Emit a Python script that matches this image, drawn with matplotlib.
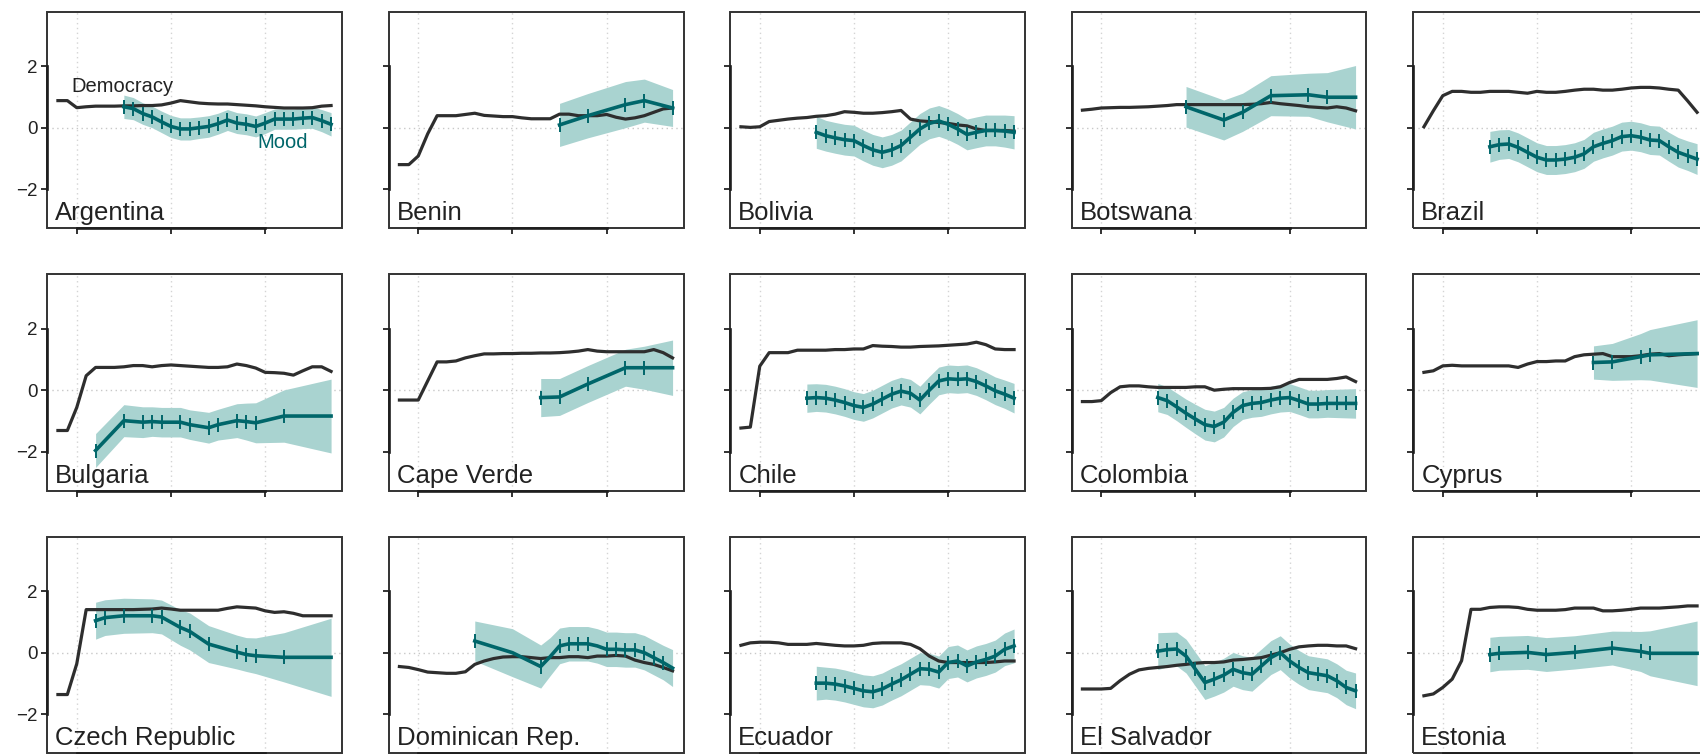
import matplotlib
matplotlib.use("Agg")
import matplotlib.pyplot as plt
from matplotlib.patches import Rectangle

plt.rcParams['font.family'] = ['Liberation Sans', 'DejaVu Sans']

YEARS = list(range(1988, 2018))

COUNTRIES = ["Argentina", "Benin", "Bolivia", "Botswana", "Brazil",
             "Bulgaria", "Cape Verde", "Chile", "Colombia", "Cyprus",
             "Czech Republic", "Dominican Rep.", "Ecuador", "El Salvador", "Estonia"]

# democracy, one value per year 1988-2017
DEMOCRACY = [
    [0.88, 0.88, 0.65, 0.68, 0.70, 0.70, 0.70, 0.71, 0.71, 0.72, 0.72, 0.74, 0.80, 0.88, 0.84,
     0.80, 0.78, 0.77, 0.77, 0.75, 0.73, 0.71, 0.68, 0.66, 0.64, 0.64, 0.64, 0.65, 0.70, 0.72],
    [-1.20, -1.20, -0.92, -0.20, 0.39, 0.39, 0.39, 0.43, 0.47, 0.40, 0.38, 0.36, 0.36, 0.32, 0.29,
     0.29, 0.29, 0.44, 0.44, 0.39, 0.39, 0.39, 0.43, 0.34, 0.28, 0.32, 0.39, 0.50, 0.61, 0.64],
    [0.03, 0.01, 0.03, 0.20, 0.24, 0.28, 0.31, 0.33, 0.37, 0.39, 0.44, 0.52, 0.50, 0.47, 0.47,
     0.49, 0.52, 0.56, 0.28, 0.22, 0.20, 0.17, 0.14, 0.09, 0.06, -0.04, -0.09, -0.09, -0.09, -0.11],
    [0.57, 0.60, 0.64, 0.65, 0.66, 0.66, 0.67, 0.68, 0.70, 0.72, 0.75, 0.75, 0.75, 0.75, 0.75,
     0.75, 0.75, 0.75, 0.76, 0.78, 0.82, 0.78, 0.75, 0.72, 0.68, 0.66, 0.64, 0.68, 0.64, 0.55],
    [0.03, 0.55, 1.04, 1.18, 1.18, 1.15, 1.15, 1.18, 1.18, 1.18, 1.15, 1.12, 1.18, 1.15, 1.15,
     1.18, 1.22, 1.25, 1.25, 1.22, 1.22, 1.25, 1.29, 1.31, 1.31, 1.29, 1.25, 1.22, 0.87, 0.50],
    [-1.31, -1.31, -0.56, 0.47, 0.74, 0.74, 0.74, 0.76, 0.80, 0.80, 0.76, 0.80, 0.82, 0.80, 0.78,
     0.76, 0.74, 0.74, 0.76, 0.85, 0.80, 0.72, 0.58, 0.57, 0.55, 0.49, 0.63, 0.76, 0.76, 0.61],
    [-0.32, -0.32, -0.32, 0.30, 0.92, 0.92, 0.95, 1.05, 1.12, 1.18, 1.18, 1.19, 1.19, 1.20, 1.20,
     1.21, 1.21, 1.22, 1.24, 1.27, 1.32, 1.27, 1.25, 1.25, 1.25, 1.25, 1.25, 1.32, 1.22, 1.05],
    [-1.23, -1.20, 0.78, 1.22, 1.22, 1.22, 1.30, 1.30, 1.30, 1.30, 1.32, 1.32, 1.34, 1.34, 1.45,
     1.43, 1.42, 1.40, 1.40, 1.42, 1.43, 1.44, 1.46, 1.48, 1.50, 1.56, 1.48, 1.34, 1.32, 1.32],
    [-0.37, -0.37, -0.34, -0.08, 0.11, 0.14, 0.14, 0.11, 0.09, 0.09, 0.09, 0.09, 0.11, 0.11, 0.00,
     0.03, 0.05, 0.05, 0.05, 0.05, 0.06, 0.11, 0.25, 0.35, 0.35, 0.35, 0.35, 0.38, 0.43, 0.28],
    [0.58, 0.63, 0.79, 0.81, 0.79, 0.79, 0.79, 0.79, 0.79, 0.79, 0.74, 0.85, 0.93, 0.93, 0.95,
     0.95, 1.09, 1.15, 1.17, 1.19, 1.09, 1.09, 1.09, 1.12, 1.17, 1.19, 1.12, 1.15, 1.17, 1.19],
    [-1.36, -1.36, -0.36, 1.40, 1.40, 1.40, 1.40, 1.40, 1.40, 1.41, 1.42, 1.45, 1.42, 1.38, 1.38,
     1.38, 1.38, 1.38, 1.44, 1.49, 1.47, 1.45, 1.36, 1.31, 1.33, 1.28, 1.20, 1.20, 1.20, 1.20],
    [-0.45, -0.48, -0.55, -0.63, -0.65, -0.67, -0.67, -0.62, -0.38, -0.27, -0.19, -0.14, -0.13, -0.13, -0.16,
     -0.19, -0.16, -0.16, -0.13, -0.13, -0.16, -0.11, -0.11, -0.09, -0.11, -0.24, -0.32, -0.38, -0.48, -0.59],
    [0.24, 0.32, 0.34, 0.34, 0.32, 0.27, 0.27, 0.27, 0.30, 0.27, 0.24, 0.22, 0.22, 0.24, 0.30,
     0.32, 0.32, 0.32, 0.27, 0.13, -0.11, -0.27, -0.32, -0.32, -0.32, -0.32, -0.32, -0.30, -0.27, -0.27],
    [-1.18, -1.18, -1.18, -1.16, -0.91, -0.70, -0.56, -0.51, -0.48, -0.45, -0.41, -0.38, -0.34, -0.32, -0.32,
     -0.30, -0.24, -0.22, -0.19, -0.16, -0.08, 0.00, 0.11, 0.19, 0.22, 0.24, 0.24, 0.22, 0.22, 0.13],
    [-1.40, -1.34, -1.13, -0.86, -0.26, 1.41, 1.41, 1.47, 1.49, 1.49, 1.47, 1.41, 1.38, 1.38, 1.38,
     1.40, 1.45, 1.45, 1.45, 1.36, 1.36, 1.38, 1.41, 1.45, 1.45, 1.45, 1.47, 1.49, 1.52, 1.52],
]

MOOD_YEARS = [
    list(range(1995, 2018)),
    [2005, 2008, 2012, 2014, 2017],
    list(range(1996, 2018)),
    [1999, 2003, 2005, 2008, 2012, 2014, 2017],
    list(range(1995, 2018)),
    [1992, 1995, 1997, 1998, 1999, 2001, 2002, 2004, 2005, 2007, 2008, 2009, 2012, 2017],
    [2003, 2005, 2008, 2012, 2014, 2017],
    list(range(1995, 2018)),
    list(range(1996, 2018)),
    [2006, 2008, 2011, 2012, 2017],
    [1992, 1993, 1995, 1998, 1999, 2001, 2002, 2004, 2007, 2008, 2009, 2012, 2017],
    [1996, 2000, 2003, 2004, 2005, 2006, 2007, 2008, 2009, 2010, 2011, 2012, 2013, 2014, 2015, 2016, 2017],
    list(range(1996, 2018)),
    list(range(1996, 2018)),
    [1995, 1996, 1999, 2001, 2004, 2008, 2011, 2012, 2017],
]

MOOD = [
    [0.68, 0.62, 0.46, 0.35, 0.19, 0.04, -0.04, -0.04, 0.00, 0.04, 0.13, 0.25, 0.15, 0.11, 0.04,
     0.15, 0.28, 0.28, 0.28, 0.31, 0.33, 0.23, 0.11],
    [0.09, 0.39, 0.75, 0.88, 0.64],
    [-0.15, -0.26, -0.33, -0.39, -0.42, -0.58, -0.72, -0.80, -0.72, -0.58, -0.31, -0.04, 0.14, 0.22,
     0.11, -0.04, -0.22, -0.15, -0.09, -0.09, -0.11, -0.15],
    [0.68, 0.25, 0.50, 1.04, 1.07, 0.99, 0.99],
    [-0.62, -0.55, -0.53, -0.64, -0.80, -0.96, -1.05, -1.05, -1.02, -0.96, -0.85, -0.62, -0.51, -0.42,
     -0.29, -0.26, -0.31, -0.40, -0.42, -0.62, -0.80, -0.91, -1.02],
    [-1.96, -0.99, -1.04, -1.02, -1.04, -1.04, -1.12, -1.22, -1.12, -0.99, -1.02, -1.06, -0.84, -0.84],
    [-0.24, -0.22, 0.20, 0.73, 0.73, 0.73],
    [-0.26, -0.24, -0.26, -0.32, -0.40, -0.50, -0.56, -0.45, -0.29, -0.13, -0.03, -0.10, -0.32, 0.00,
     0.30, 0.37, 0.35, 0.37, 0.28, 0.14, -0.02, -0.13, -0.26],
    [-0.24, -0.34, -0.54, -0.75, -0.94, -1.12, -1.18, -1.04, -0.72, -0.50, -0.43, -0.40, -0.32, -0.26,
     -0.24, -0.34, -0.45, -0.45, -0.43, -0.43, -0.43, -0.43],
    [0.90, 0.92, 1.09, 1.15, 1.19],
    [1.04, 1.14, 1.20, 1.20, 1.16, 0.82, 0.69, 0.28, 0.02, -0.06, -0.10, -0.15, -0.15],
    [0.38, 0.00, -0.45, -0.13, 0.22, 0.29, 0.29, 0.29, 0.22, 0.11, 0.11, 0.09, 0.09, 0.00, -0.16, -0.32, -0.50],
    [-0.99, -0.99, -1.02, -1.08, -1.16, -1.24, -1.27, -1.18, -1.02, -0.88, -0.70, -0.52, -0.54, -0.63,
     -0.32, -0.27, -0.43, -0.30, -0.22, -0.11, 0.11, 0.22],
    [0.05, 0.10, 0.12, -0.11, -0.54, -0.97, -0.86, -0.73, -0.54, -0.65, -0.70, -0.43, -0.16, 0.00,
     -0.27, -0.48, -0.65, -0.70, -0.75, -0.91, -1.13, -1.24],
    [-0.06, -0.02, 0.01, -0.06, 0.01, 0.15, 0.04, -0.02, -0.02],
]

# half width of the shaded uncertainty band
MOOD_BAND = [
    [0.38, 0.36, 0.35, 0.35, 0.35, 0.36, 0.36, 0.36, 0.35, 0.35, 0.34, 0.34, 0.34, 0.34, 0.34,
     0.34, 0.33, 0.33, 0.33, 0.34, 0.35, 0.36, 0.38],
    [0.70, 0.72, 0.75, 0.70, 0.60],
    [0.52, 0.50, 0.50, 0.50, 0.50, 0.50, 0.50, 0.50, 0.50, 0.50, 0.50, 0.50, 0.50, 0.50, 0.50,
     0.50, 0.50, 0.50, 0.50, 0.50, 0.52, 0.54],
    [0.66, 0.65, 0.62, 0.65, 0.70, 0.80, 1.03],
    [0.50, 0.48, 0.47, 0.47, 0.47, 0.47, 0.47, 0.47, 0.47, 0.47, 0.47, 0.47, 0.47, 0.47, 0.47,
     0.47, 0.47, 0.47, 0.47, 0.47, 0.48, 0.48, 0.50],
    [0.55, 0.52, 0.50, 0.48, 0.48, 0.48, 0.48, 0.50, 0.50, 0.55, 0.60, 0.65, 0.85, 1.20],
    [0.62, 0.60, 0.60, 0.60, 0.70, 0.90],
    [0.46, 0.45, 0.45, 0.45, 0.45, 0.45, 0.45, 0.45, 0.45, 0.45, 0.45, 0.45, 0.45, 0.45, 0.45,
     0.45, 0.45, 0.45, 0.45, 0.45, 0.45, 0.46, 0.48],
    [0.46, 0.45, 0.45, 0.46, 0.48, 0.50, 0.50, 0.48, 0.46, 0.45, 0.45, 0.45, 0.45, 0.45, 0.45,
     0.45, 0.45, 0.45, 0.45, 0.46, 0.47, 0.48],
    [0.54, 0.60, 0.75, 0.82, 1.10],
    [0.60, 0.58, 0.57, 0.55, 0.55, 0.58, 0.60, 0.60, 0.55, 0.55, 0.58, 0.80, 1.27],
    [0.65, 0.78, 0.70, 0.62, 0.58, 0.56, 0.56, 0.56, 0.56, 0.56, 0.56, 0.56, 0.56, 0.56, 0.56, 0.56, 0.60],
    [0.55, 0.52, 0.52, 0.52, 0.52, 0.52, 0.52, 0.52, 0.52, 0.52, 0.52, 0.52, 0.52, 0.52, 0.52,
     0.52, 0.52, 0.52, 0.52, 0.52, 0.53, 0.55],
    [0.60, 0.56, 0.55, 0.55, 0.55, 0.55, 0.55, 0.55, 0.55, 0.55, 0.55, 0.55, 0.55, 0.55, 0.55,
     0.55, 0.55, 0.55, 0.55, 0.55, 0.56, 0.58],
    [0.56, 0.55, 0.55, 0.55, 0.54, 0.55, 0.65, 0.73, 1.05],
]

# years with survey data (tick marks on the mood line)
SURVEYS = [
    list(range(1995, 2018)),
    [2005, 2008, 2012, 2014, 2017],
    list(range(1996, 2018)),
    [1999, 2003, 2005, 2008, 2012, 2014],
    list(range(1995, 2018)),
    [1992, 1995, 1997, 1998, 1999, 2001, 2002, 2004, 2005, 2007, 2008, 2009, 2012],
    [2003, 2005, 2008, 2012, 2014],
    list(range(1995, 2018)),
    list(range(1996, 2018)),
    [2006, 2008, 2011, 2012],
    [1992, 1993, 1995, 1998, 1999, 2001, 2002, 2004, 2007, 2008, 2009, 2012],
    [1996, 2003, 2005, 2006, 2007, 2008, 2010, 2011, 2012, 2013, 2014, 2015, 2016],
    list(range(1996, 2018)),
    list(range(1996, 2018)),
    [1995, 1996, 1999, 2001, 2004, 2008, 2011, 2012],
]

TEAL = '#00666a'
BAND = '#a9d3d0'
DARK = '#2e2e2e'

W, H = 1700, 754
fig = plt.figure(figsize=(W / 100, H / 100), dpi=100)

for i, name in enumerate(COUNTRIES):
    r, c = divmod(i, 5)
    left = 47 + 341.5 * c
    top = 12 + 262.5 * r
    ax = fig.add_axes([left / W, 1 - (top + 216) / H, 295 / W, 216 / H])

    ax.set_xlim(1986.84, 2018.16)
    ax.set_ylim(-3.26, 3.76)

    ax.axhline(0, color='#c8c8c8', lw=1, ls=(0, (1, 2.5)), zorder=0)
    for yr in (1990, 2000, 2010):
        ax.axvline(yr, color='#d4d4d4', lw=1, ls=(0, (1, 2.5)), zorder=0)

    ys = MOOD_YEARS[i]
    lo = [m - b for m, b in zip(MOOD[i], MOOD_BAND[i])]
    hi = [m + b for m, b in zip(MOOD[i], MOOD_BAND[i])]
    ax.fill_between(ys, lo, hi, color=BAND, lw=0, zorder=1)
    ax.plot(YEARS, DEMOCRACY[i], color=DARK, lw=2.3, zorder=2)
    ax.plot(ys, MOOD[i], color=TEAL, lw=2.6, zorder=3)
    sv = [MOOD[i][ys.index(y)] for y in SURVEYS[i]]
    ax.plot(SURVEYS[i], sv, ls='none', marker='|', ms=10, mew=1.4, color=TEAL, zorder=4)

    ax.text(0.028, 0.012, name, transform=ax.transAxes, ha='left', va='bottom',
            fontsize=18.5, color='#222222')

    if i == 0:
        ax.text(1994.8, 1.34, 'Democracy', ha='center', va='center', fontsize=14.5, color='#222222')
        ax.text(2011.9, -0.47, 'Mood', ha='center', va='center', fontsize=14.5, color=TEAL)

    for s in ax.spines.values():
        s.set_visible(False)
    ax.add_patch(Rectangle((0, 0), 1, 1, transform=ax.transAxes, fill=False,
                           ec='#333333', lw=1.4, clip_on=False, zorder=6))
    ax.spines['left'].set_visible(True)
    ax.spines['left'].set_bounds(-2, 2)
    ax.spines['bottom'].set_visible(True)
    ax.spines['bottom'].set_bounds(1990, 2010)
    for k in ('left', 'bottom'):
        ax.spines[k].set_linewidth(1.9)
        ax.spines[k].set_color('#1e1e1e')
        ax.spines[k].set_zorder(7)

    ax.set_xticks([1990, 2000, 2010])
    ax.set_yticks([-2, 0, 2])
    ax.tick_params(direction='out', length=4, width=1.3, colors='#222222',
                   labelbottom=False, labelleft=(c == 0), labelsize=13.5, pad=3)

fig.savefig('out.png', dpi=100)
